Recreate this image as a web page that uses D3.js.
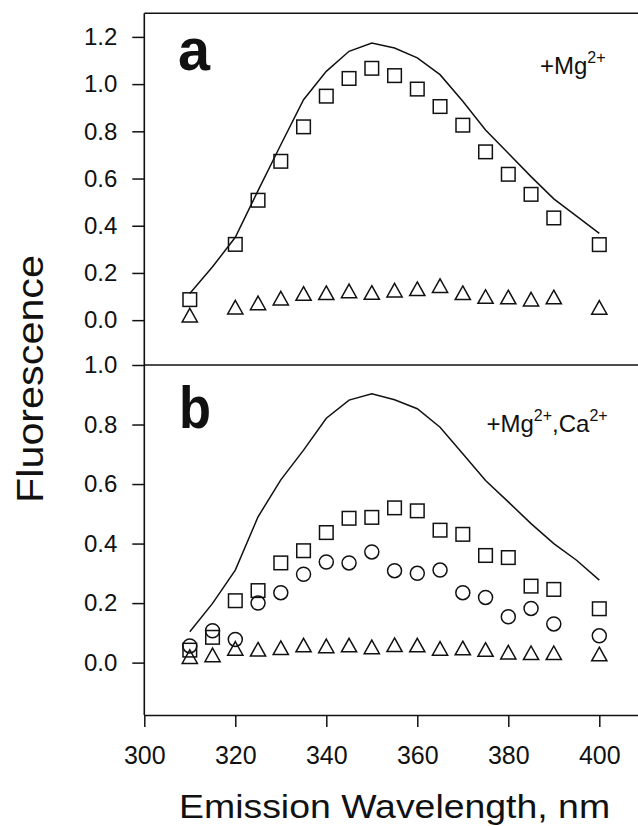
<!DOCTYPE html>
<html>
<head>
<meta charset="utf-8">
<script src="https://cdn.jsdelivr.net/npm/d3@7"></script>
<style>
  body { margin: 0; background: #fff; }
  text { font-family: "Liberation Sans", Arial, Helvetica, sans-serif; fill: #111; }
</style>
</head>
<body>
<script>
// wavelengths (nm)
const wlA = [310, 320, 325, 330, 335, 340, 345, 350, 355, 360, 365, 370, 375, 380, 385, 390, 400];
const wlB = [310, 315, 320, 325, 330, 335, 340, 345, 350, 355, 360, 365, 370, 375, 380, 385, 390, 400];
const wlLine = [310, 315, 320, 325, 330, 335, 340, 345, 350, 355, 360, 365, 370, 375, 380, 385, 390, 395, 400];

// panel a (+Mg2+)
const lineA = [0.113, 0.226, 0.351, 0.549, 0.743, 0.934, 1.054, 1.139, 1.174, 1.153, 1.111, 1.040, 0.927, 0.806, 0.707, 0.608, 0.514, 0.441, 0.368];
const squaresA = [0.087, 0.321, 0.508, 0.673, 0.819, 0.949, 1.024, 1.067, 1.036, 0.979, 0.905, 0.826, 0.713, 0.618, 0.533, 0.433, 0.320];
const trianglesA = [0.021, 0.055, 0.073, 0.093, 0.113, 0.116, 0.124, 0.117, 0.127, 0.133, 0.146, 0.116, 0.100, 0.098, 0.089, 0.098, 0.054];

// panel b (+Mg2+, Ca2+)
const lineB = [0.104, 0.199, 0.311, 0.490, 0.614, 0.714, 0.821, 0.882, 0.903, 0.883, 0.853, 0.791, 0.702, 0.612, 0.540, 0.467, 0.400, 0.344, 0.277];
const squaresB = [0.042, 0.085, 0.208, 0.242, 0.335, 0.376, 0.437, 0.485, 0.488, 0.520, 0.510, 0.445, 0.431, 0.360, 0.353, 0.257, 0.246, 0.181];
const circlesB = [0.056, 0.107, 0.078, 0.200, 0.235, 0.297, 0.338, 0.335, 0.372, 0.309, 0.300, 0.311, 0.235, 0.219, 0.154, 0.182, 0.130, 0.090];
const trianglesB = [0.020, 0.026, 0.048, 0.045, 0.050, 0.059, 0.056, 0.059, 0.053, 0.060, 0.059, 0.048, 0.049, 0.044, 0.035, 0.033, 0.033, 0.029];

// ticks
const xTicks = [300, 320, 340, 360, 380, 400];
const yTicksA = [0, 0.2, 0.4, 0.6, 0.8, 1.0, 1.2];
const yTicksB = [0, 0.2, 0.4, 0.6, 0.8, 1.0];

const width = 638, height = 826;

const svg = d3.select('body')
	.append('svg')
	.attr('width', width)
	.attr('height', height);

//scales
const x = d3.scaleLinear().domain([300, 410]).range([144.3, 644.8]);
const yA = d3.scaleLinear().domain([-0.19, 1.3]).range([365, 13.3]);
const yB = d3.scaleLinear().domain([-0.176, 1.0]).range([715, 365]);

const stroke = '#111';

//frame lines
const frame = svg.append('g').attr('stroke', stroke).attr('stroke-width', 1.6);
frame.append('line').attr('x1', x(300)).attr('x2', width).attr('y1', yA(1.3)).attr('y2', yA(1.3));
frame.append('line').attr('x1', x(300)).attr('x2', width).attr('y1', yB(1.0)).attr('y2', yB(1.0));
frame.append('line').attr('x1', x(300)).attr('x2', x(300)).attr('y1', yA(1.3)).attr('y2', yB(-0.176));

//axes
const fmt = d3.format('.1f');
const drawY = (scale, ticks) => {
	const g = svg.append('g')
		.attr('transform', `translate(${x(300)},0)`)
		.call(d3.axisLeft(scale).tickValues(ticks).tickFormat(fmt).tickSize(12).tickPadding(15));
	g.select('.domain').remove();
	g.selectAll('.tick line').attr('stroke', stroke).attr('stroke-width', 1.5);
	g.selectAll('.tick text')
		.attr('font-size', 24)
		.attr('font-family', null)
		.attr('fill', '#111');
};
drawY(yA, yTicksA);
drawY(yB, yTicksB);

const gx = svg.append('g')
	.attr('transform', `translate(0,${yB(-0.176)})`)
	.call(d3.axisBottom(x).tickValues(xTicks).tickFormat(d3.format('d')).tickSize(12).tickSizeOuter(0).tickPadding(19));
gx.select('.domain').attr('stroke', stroke).attr('stroke-width', 1.6);
gx.selectAll('.tick line').attr('stroke', stroke).attr('stroke-width', 1.5);
gx.selectAll('.tick text').attr('font-size', 25).attr('font-family', null).attr('fill', '#111');

//axis titles
svg.append('text')
	.attr('x', (x(300) + x(410)) / 2)
	.attr('y', 818)
	.attr('text-anchor', 'middle')
	.attr('font-size', 34)
	.attr('textLength', 431)
	.attr('lengthAdjust', 'spacingAndGlyphs')
	.text('Emission Wavelength, nm');

svg.append('text')
	.attr('transform', 'translate(42.5,379) rotate(-90)')
	.attr('text-anchor', 'middle')
	.attr('font-size', 37)
	.attr('textLength', 248)
	.attr('lengthAdjust', 'spacingAndGlyphs')
	.text('Fluorescence');

//panel letters
const letter = (t, px, py) => svg.append('text')
	.attr('x', px).attr('y', py)
	.attr('font-size', 60)
	.attr('font-weight', 'bold')
	.attr('textLength', 32)
	.attr('lengthAdjust', 'spacingAndGlyphs')
	.text(t);
letter('a', 178, 70);
letter('b', 179, 428);

//condition labels
const label = (parts, px, py) => {
	const t = svg.append('text').attr('x', px).attr('y', py).attr('font-size', 24);
	let up = false;
	parts.forEach(([s, sup]) => {
		const ts = t.append('tspan').text(s);
		if (sup && !up) { ts.attr('dy', -11).attr('font-size', 16); up = true; }
		else if (sup) { ts.attr('font-size', 16); }
		else if (up) { ts.attr('dy', 11); up = false; }
	});
};
label([['+Mg', false], ['2+', true]], 540, 74);
label([['+Mg', false], ['2+', true], [',Ca', false], ['2+', true]], 486.5, 432);

//marks
const line = (y) => d3.line().x((d) => x(d[0])).y((d) => y(d[1]));

const drawLine = (vals, y) => svg.append('path')
	.datum(d3.zip(wlLine, vals))
	.attr('fill', 'none')
	.attr('stroke', stroke)
	.attr('stroke-width', 1.5)
	.attr('d', line(y));

const drawSquares = (wl, vals, y) => svg.append('g')
	.selectAll('rect')
	.data(d3.zip(wl, vals))
	.enter()
	.append('rect')
	.attr('x', (d) => x(d[0]) - 6.8)
	.attr('y', (d) => y(d[1]) - 6.8)
	.attr('width', 13.6)
	.attr('height', 13.6)
	.attr('fill', 'none')
	.attr('stroke', stroke)
	.attr('stroke-width', 1.5);

const drawCircles = (wl, vals, y) => svg.append('g')
	.selectAll('circle')
	.data(d3.zip(wl, vals))
	.enter()
	.append('circle')
	.attr('cx', (d) => x(d[0]))
	.attr('cy', (d) => y(d[1]))
	.attr('r', 7)
	.attr('fill', 'none')
	.attr('stroke', stroke)
	.attr('stroke-width', 1.5);

const drawTriangles = (wl, vals, y) => svg.append('g')
	.selectAll('path')
	.data(d3.zip(wl, vals))
	.enter()
	.append('path')
	.attr('d', (d) => {
		const cx = x(d[0]), cy = y(d[1]);
		return `M${cx},${cy - 6.8}L${cx + 7.6},${cy + 6.8}L${cx - 7.6},${cy + 6.8}Z`;
	})
	.attr('fill', 'none')
	.attr('stroke', stroke)
	.attr('stroke-width', 1.5);

drawLine(lineA, yA);
drawSquares(wlA, squaresA, yA);
drawTriangles(wlA, trianglesA, yA);

drawLine(lineB, yB);
drawSquares(wlB, squaresB, yB);
drawCircles(wlB, circlesB, yB);
drawTriangles(wlB, trianglesB, yB);
</script>
</body>
</html>
